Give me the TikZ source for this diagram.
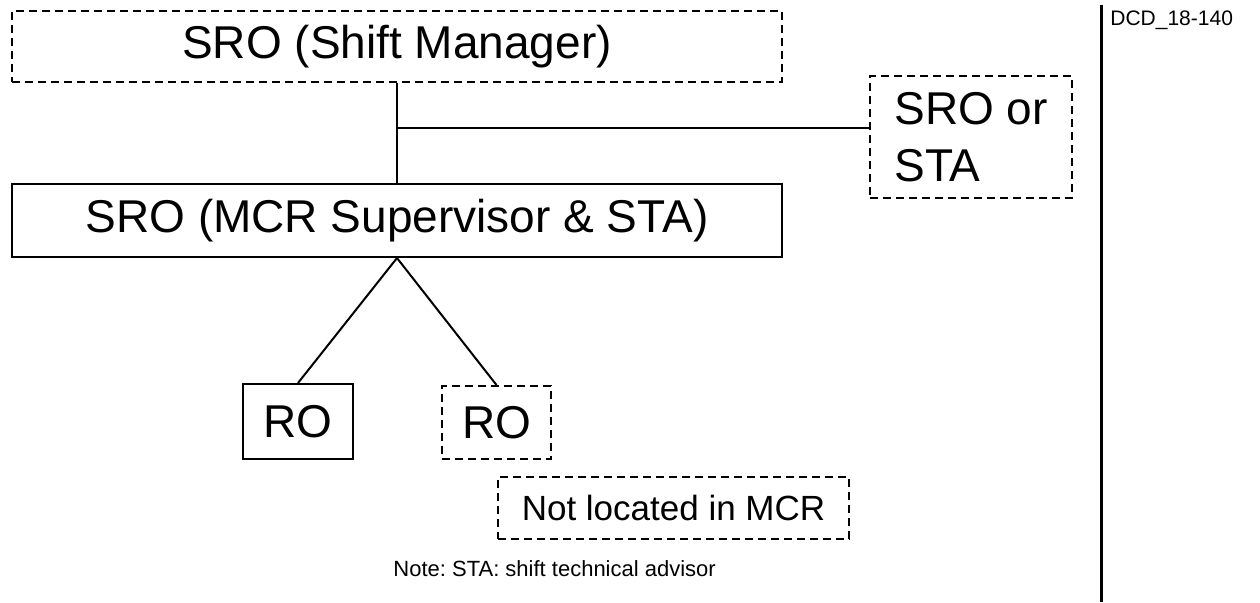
\documentclass[tikz,border=0pt]{standalone}
\usepackage{fontspec}
\setmainfont{Liberation Sans}
\frenchspacing
\usetikzlibrary{positioning,calc}
\tikzset{
  box-role/.style={draw=black,line width=1pt,inner sep=0pt,align=center,
    font=\fontsize{23}{28.5}\selectfont},
  box-dash/.style={box-role,dash pattern=on 4pt off 2.5pt},
  link/.style={draw=black,line width=1pt},
  separator/.style={draw=black,line width=1.5pt},
}

\begin{document}
\begin{tikzpicture}[x=0.5pt,y=-0.5pt]
  \useasboundingbox (0,0) rectangle (1260,602);
  % roles
  \node[box-dash,minimum width=385pt,minimum height=35.5pt] (shift) at (397,46.5) {SRO (Shift Manager)};
  \node[box-role,minimum width=385pt,minimum height=36.5pt] (mcr) at (397,220.5) {SRO (MCR Supervisor \& STA)};
  \node[box-dash,minimum width=101pt,minimum height=61pt,align=left] (srosta) at (971,137) {SRO or\\STA};
  \node[box-role,minimum width=55pt,minimum height=37.5pt] (ro1) at (298,421.5) {RO};
  \node[box-dash,minimum width=54.5pt,minimum height=36.5pt] (ro2) at (496.5,422.5) {RO};
  \node[box-dash,minimum width=175.5pt,minimum height=31pt,font=\fontsize{17.5}{21}\selectfont] (notmcr) at (673.5,508) {Not located in MCR};
  % notes
  \node[anchor=base west,inner sep=0pt,font=\fontsize{11}{13}\selectfont] (note) at (393,576) {Note: STA: shift technical advisor};
  \node[anchor=base west,inner sep=0pt,font=\fontsize{10.5}{12}\selectfont] (dcd) at (1110,25) {DCD\_18-140};
  \coordinate (sep-top) at (1101,5);
  \coordinate (sep-bot) at (1101,602);
  \coordinate (jn) at (397,128);
  % links
  \draw[link] (shift.south) -- (mcr.north);
  \draw[link] (jn) -- (jn -| srosta.west);
  \draw[link] (mcr.south) -- (ro1.north);
  \draw[link] (mcr.south) -- (ro2.north);
  \draw[separator] (sep-top) -- (sep-bot);
\end{tikzpicture}
\end{document}
